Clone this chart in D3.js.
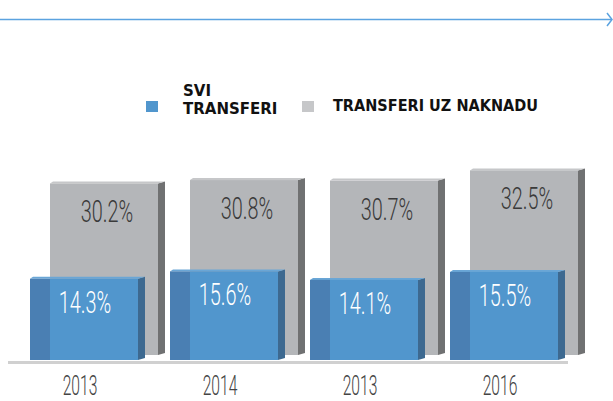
<!DOCTYPE html>
<html>
<head>
<meta charset="utf-8">
<script src="https://cdn.jsdelivr.net/npm/d3@7"></script>
<style>
  body { margin: 0; background: #fff; }
  #chart { width: 613px; height: 401px; display: block; }
  .legend text { font-family: Tahoma, "DejaVu Sans", sans-serif; font-weight: bold; font-size: 15px; fill: #111; }
  .value, .year { font-family: Roboto, "Noto Sans", sans-serif; font-weight: 300; }
</style>
</head>
<body>
<svg id="chart"></svg>
<script>

var categories = ["2013", "2014", "2013", "2016"];
var sviTransferi = [14.3, 15.6, 14.1, 15.5];
var transferiUzNaknadu = [30.2, 30.8, 30.7, 32.5];
var seriesNames = ["SVI TRANSFERI", "TRANSFERI UZ NAKNADU"];

var svg = d3.select("#chart"),
    width = 613,
    height = 401,
    baseY = 360,
    barW = 108,
    depth = 7,
    backShift = 20,
    backLift = 5;

var color = {
  blueFront: "#5196cd",
  blueLeft: "#4a7fb3",
  blueSide: "#3d6990",
  blueTop: "#6aa6d6",
  grayFront: "#b4b6b9",
  graySide: "#707172",
  grayTop: "#c6c7c9"
};

var xScale = d3.scaleBand()
    .domain(d3.range(categories.length))
    .range([30, 590]);

var yScale = d3.scaleLinear()
    .domain([0, 35])
    .range([baseY, baseY - 35 * 5.68]);

// top rule with arrow
svg.append("line")
    .attr("x1", 0).attr("x2", 612)
    .attr("y1", 19.5).attr("y2", 19.5)
    .attr("stroke", "#5ba3e0")
    .attr("stroke-width", 1.5);

svg.append("polyline")
    .attr("points", "607,13 612,19.5 607,26")
    .attr("fill", "none")
    .attr("stroke", "#5ba3e0")
    .attr("stroke-width", 1.5);

// legend
var legend = svg.append("g").attr("class", "legend");

legend.append("rect").attr("x", 146).attr("y", 101).attr("width", 12).attr("height", 11).attr("fill", color.blueFront);
legend.append("text").attr("x", 183).attr("y", 96).text(seriesNames[0].split(" ")[0]);
legend.append("text").attr("x", 183).attr("y", 114).text(seriesNames[0].split(" ")[1]);

legend.append("rect").attr("x", 302).attr("y", 101).attr("width", 12).attr("height", 11).attr("fill", color.grayTop);
legend.append("text").attr("x", 333).attr("y", 111)
    .attr("textLength", 205)
    .attr("lengthAdjust", "spacingAndGlyphs")
    .text(seriesNames[1]);

// baseline
svg.append("line")
    .attr("x1", 8).attr("x2", 568)
    .attr("y1", 362.5).attr("y2", 362.5)
    .attr("stroke", "#d0d0d0")
    .attr("stroke-width", 3);

function drawBox(g, x, top, bottom, c, leftFace) {
  // side face
  g.append("polygon")
      .attr("points", [[x + barW, top], [x + barW + depth, top - 2], [x + barW + depth, bottom - 2], [x + barW, bottom]].join(" "))
      .attr("fill", c.side);
  // top face
  g.append("polygon")
      .attr("points", [[x, top], [x + 3, top - 2], [x + barW + depth, top - 2], [x + barW, top]].join(" "))
      .attr("fill", c.top);
  if (leftFace) {
    g.append("rect")
        .attr("x", x).attr("y", top)
        .attr("width", backShift).attr("height", bottom - top)
        .attr("fill", c.left);
    g.append("rect")
        .attr("x", x + backShift).attr("y", top)
        .attr("width", barW - backShift).attr("height", bottom - top)
        .attr("fill", c.front);
  } else {
    g.append("rect")
        .attr("x", x).attr("y", top)
        .attr("width", barW).attr("height", bottom - top)
        .attr("fill", c.front);
  }
}

var grayBars = svg.append("g").attr("class", "gray-bars");
var blueBars = svg.append("g").attr("class", "blue-bars");

transferiUzNaknadu.forEach(function(v, i) {
  var x = xScale(i) + backShift,
      top = yScale(v) - backLift;
  drawBox(grayBars.append("g"), x, top, baseY - backLift,
    {side: color.graySide, top: color.grayTop, front: color.grayFront}, false);

  grayBars.append("text")
      .attr("class", "value")
      .attr("transform", "translate(" + (x + barW / 2 + 3) + "," + (top + 39) + ") scale(0.64,1)")
      .attr("text-anchor", "middle")
      .attr("font-size", 31)
      .attr("fill", "#3a3a3a")
      .text(v.toFixed(1) + "%");
});

sviTransferi.forEach(function(v, i) {
  var x = xScale(i),
      top = yScale(v);
  drawBox(blueBars.append("g"), x, top, baseY,
    {side: color.blueSide, top: color.blueTop, front: color.blueFront, left: color.blueLeft}, true);

  blueBars.append("text")
      .attr("class", "value")
      .attr("transform", "translate(" + (x + barW / 2 + 1) + "," + (top + 34) + ") scale(0.64,1)")
      .attr("text-anchor", "middle")
      .attr("font-size", 31)
      .attr("fill", "#ffffff")
      .text(v.toFixed(1) + "%");
});

// year labels
svg.append("g").selectAll(".year")
    .data(categories)
  .enter().append("text")
    .attr("class", "year")
    .attr("transform", function(d, i) { return "translate(" + (xScale(i) + barW / 2 - 4) + ",395) scale(0.58,1)"; })
    .attr("text-anchor", "middle")
    .attr("font-size", 27)
    .attr("fill", "#444")
    .text(function(d) { return d; });

</script>
</body>
</html>
